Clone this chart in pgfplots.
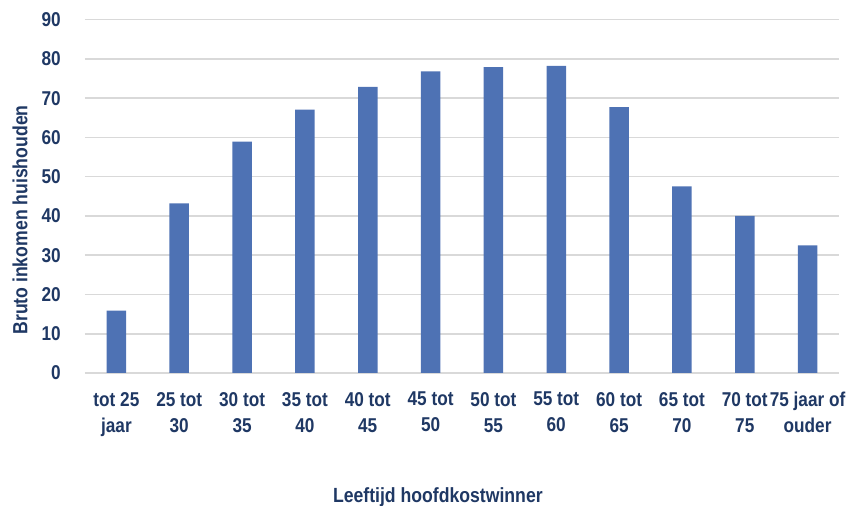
\documentclass[border=0pt]{standalone}
\usepackage{pgfplots}
\pgfplotsset{compat=1.18}
\usepackage{fontspec}
\setmainfont{Liberation Sans}[FakeStretch=0.86]
\definecolor{barblue}{HTML}{4E72B4}
\definecolor{navy}{HTML}{1F3864}
\definecolor{gridgray}{HTML}{D9D9D9}
\begin{document}
\begin{tikzpicture}
\path[use as bounding box] (0,0) rectangle (855pt,506pt);
\begin{axis}[
  at={(85pt,133pt)}, anchor=south west,
  width=754pt, height=353.4pt, scale only axis,
  xmin=-0.5, xmax=11.5, ymin=0, ymax=90,
  ytick={0,10,...,90},
  xtick={0,...,11},
  xticklabels={{tot 25\\jaar},{25 tot\\30},{30 tot\\35},{35 tot\\40},{40 tot\\45},{45 tot\\50},{50 tot\\55},{55 tot\\60},{60 tot\\65},{65 tot\\70},{70 tot\\75},{75 jaar of\\ouder}},
  ymajorgrids,
  major grid style={draw=gridgray, line width=1.6pt},
  axis line style={draw=none},
  major tick length=0pt,
  /pgf/number format/assume math mode=true,
  tick label style={font=\fontsize{20}{26}\selectfont\bfseries, text=navy},
  xticklabel style={align=center, anchor=north, inner sep=0pt, yshift=-19pt},
  yticklabel style={anchor=east, inner sep=0pt, xshift=-24pt},
  label style={font=\fontsize{20.5}{26}\selectfont\bfseries, text=navy},
  xlabel={Leeftijd hoofdkostwinner},
  xlabel style={at={(axis description cs:0.468,0)}, anchor=center, yshift=-124pt},
  ylabel={Bruto inkomen huishouden},
  ylabel style={at={(axis description cs:-0.086,0.433)}, anchor=center},
]
\addplot[ybar, bar width=19.5pt, fill=barblue, draw=none] coordinates {
  (0,15.9) (1,43.2) (2,58.9) (3,67.1) (4,72.9) (5,76.8) (6,77.9) (7,78.2) (8,67.7) (9,47.5) (10,40.0) (11,32.5)
};
\end{axis}
\end{tikzpicture}
\end{document}
